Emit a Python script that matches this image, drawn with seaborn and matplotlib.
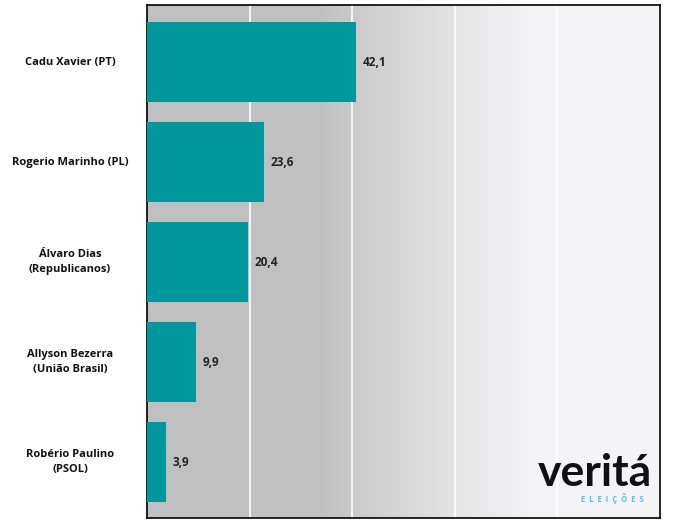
import numpy as np
import pandas as pd
import seaborn as sns
import matplotlib.pyplot as plt
from matplotlib.colors import LinearSegmentedColormap

candidates = [
    "Cadu Xavier (PT)",
    "Rogerio Marinho (PL)",
    "Álvaro Dias\n(Republicanos)",
    "Allyson Bezerra\n(União Brasil)",
    "Robério Paulino\n(PSOL)",
]
votes = [42.1, 23.6, 20.4, 9.9, 3.9]
value_labels = ["42,1", "23,6", "20,4", "9,9", "3,9"]

BAR_COLOR = "#00979d"
X_MAX = 103.4

df = pd.DataFrame({"candidate": candidates, "votes": votes})

sns.set_theme(style="white")
plt.rcParams["font.family"] = ["Open Sans", "DejaVu Sans"]

fig = plt.figure(figsize=(6.88, 5.21), dpi=100)
ax = fig.add_axes([147 / 688, 3 / 521, 513 / 688, 513 / 521])

# gray-to-white gradient background
bg = LinearSegmentedColormap.from_list(
    "bg", [(0.0, "#c0c0c0"), (0.34, "#c1c1c1"), (0.40, "#cacaca"),
           (0.60, "#e4e4e5"), (0.74, "#f3f3f5"), (1.0, "#f5f5f7")]
)
grad = np.linspace(0, 1, 512).reshape(1, -1)
ax.imshow(grad, cmap=bg, aspect="auto", extent=[0, 1, 0, 1],
          transform=ax.transAxes, zorder=0)

sns.barplot(data=df, x="votes", y="candidate", color=BAR_COLOR, width=0.8,
            saturation=1, linewidth=0, ax=ax, zorder=3)

for x in np.linspace(0, X_MAX, 6)[1:-1]:
    ax.axvline(x, color="white", lw=1.2, zorder=1)

for i, (v, lab) in enumerate(zip(votes, value_labels)):
    ax.text(v + 1.3, i, lab, va="center", ha="left", fontsize=8.5,
            fontweight="bold", color="#222222", zorder=4)

# category labels, centred in the left margin
ax.set_yticks(range(len(candidates)))
ax.set_yticklabels([])
for i, name in enumerate(candidates):
    ax.text(-77 / 513, i, name, transform=ax.get_yaxis_transform(),
            ha="center", va="center", multialignment="center",
            fontsize=8, fontweight="bold", color="#111111", linespacing=1.5)

ax.set_xlim(0, X_MAX)
ax.set_ylim(4.56, -0.57)
ax.set_xticks([])
ax.set_xlabel("")
ax.set_ylabel("")
ax.tick_params(axis="y", length=0)
for s in ax.spines.values():
    s.set_visible(True)
    s.set_color("black")
    s.set_linewidth(1.2)
ax.grid(False)

# logo
fig.text(595 / 688, 1 - 486 / 521, "veritá", ha="center", va="baseline",
         fontsize=32, fontweight="bold", color="#111111",
         family=["Lato", "DejaVu Sans"])
fig.text(612 / 688, 1 - 499 / 521, "E  L  E  I  Ç  Õ  E  S", ha="center",
         va="center", fontsize=5.5, fontweight="bold", color="#5bc0ee")

fig.savefig("out.png", dpi=100)
